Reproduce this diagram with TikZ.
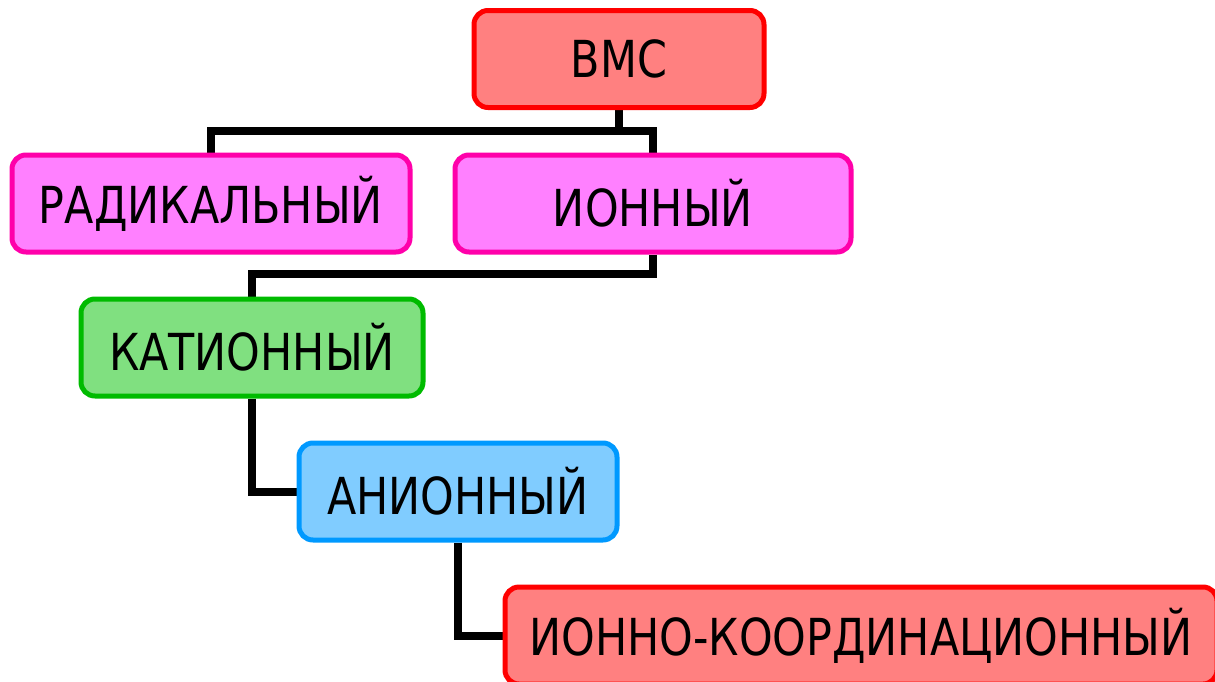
\documentclass[tikz,border=0pt]{standalone}
\usepackage{fontspec}
\setmainfont{DejaVu Sans}[FakeStretch=0.84]
\usetikzlibrary{positioning}
\pgfdeclarelayer{bg}
\pgfsetlayers{bg,main}
\definecolor{redB}{RGB}{255,0,0}
\definecolor{redF}{RGB}{255,128,128}
\definecolor{pinkB}{RGB}{255,0,170}
\definecolor{pinkF}{RGB}{255,128,255}
\definecolor{greenB}{RGB}{0,187,0}
\definecolor{greenF}{RGB}{128,224,128}
\definecolor{blueB}{RGB}{0,153,255}
\definecolor{blueF}{RGB}{128,204,255}
\tikzset{
  box/.style={rectangle, rounded corners=14pt, line width=5pt, inner sep=0pt,
    minimum height=97pt, font=\fontsize{51}{60}\selectfont, text=black},
  redbox/.style={box, draw=redB, fill=redF},
  pinkbox/.style={box, draw=pinkB, fill=pinkF},
  greenbox/.style={box, draw=greenB, fill=greenF},
  bluebox/.style={box, draw=blueB, fill=blueF},
  conn/.style={draw=black, line width=8pt, line join=miter}
}
\begin{document}
\begin{tikzpicture}[x=1pt,y=-1pt]
\useasboundingbox (0,0) rectangle (1215,681);
\node[redbox, minimum width=290pt] (vmc) at (619,59) {ВМС};
\node[pinkbox, minimum width=398pt] (rad) at (211,203.5) {РАДИКАЛЬНЫЙ};
\node[pinkbox, minimum width=396pt] (ion) at (653,203.5) {ИОННЫЙ};
\node[greenbox, minimum width=342pt] (kat) at (252,347.5) {КАТИОННЫЙ};
\node[bluebox, minimum width=318pt] (an) at (458,491.5) {АНИОННЫЙ};
\node[redbox, minimum width=712pt] (ikoord) at (861,635.5) {ИОННО-КООРДИНАЦИОННЫЙ};
\coordinate (j1) at (619,131);
\coordinate (j2) at (653,274);
\begin{pgfonlayer}{bg}
\path[conn] (vmc.south) -- (j1);
\path[conn] (rad.north) |- (j1) -| (ion.north);
\path[conn] (ion.south) -- (j2) -| (kat.north);
\path[conn] (kat.south) |- (an.west);
\path[conn] (an.south) |- (ikoord.west);
\end{pgfonlayer}
\end{tikzpicture}
\end{document}
